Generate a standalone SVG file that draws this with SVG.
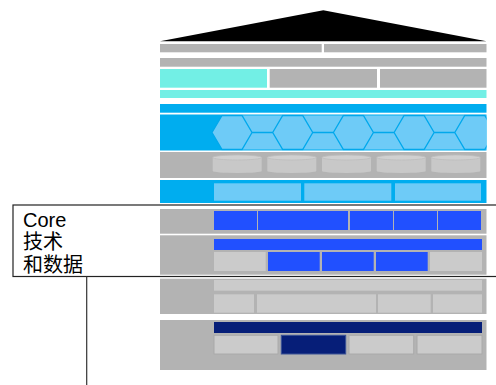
<svg xmlns="http://www.w3.org/2000/svg" width="496" height="385" viewBox="0 0 496 385">
<style>
.g{fill:#b3b3b3}
.lg{fill:#cbcbcb}
.cy{fill:#72efe5}
.bl{fill:#00adef}
.lb{fill:#6ecbf7}
.rb{fill:#2150ff}
.nv{fill:#061e78}
.sc{stroke:#aaaaaa;stroke-width:1}
.hx{fill:none;stroke:#00a8ec;stroke-width:1.3}
.lbl{font-family:"Liberation Sans","Noto Sans CJK SC",sans-serif;font-size:20px;fill:#000}
</style>
<defs>
<clipPath id="hexclip"><rect x="160" y="114.5" width="326.5" height="36"/></clipPath>
<g id="cyl">
<path d="M0,2.5 L0,16 A24.5,2 0 0 0 49,16 L49,2.5 Z" fill="#c8c8c8"/>
<ellipse cx="24.5" cy="2.5" rx="24.5" ry="2.5" fill="#d0d0d0" stroke="#bdbdbd" stroke-width="0.8"/>
</g>
</defs>
<rect width="496" height="385" fill="#ffffff"/>

<g id="roof">
<polygon points="160,41.3 323.3,10.3 486.5,41.3" fill="#000"/>
</g>

<g id="row1">
<rect class="g" x="160" y="44" width="161.7" height="8.3"/>
<rect class="g" x="324" y="44" width="162.5" height="8.3"/>
</g>

<g id="row2">
<rect class="g" x="160" y="58" width="326.5" height="8.7"/>
</g>

<g id="row3">
<rect class="cy" x="160" y="69" width="107" height="18.7"/>
<rect class="g" x="269.7" y="69" width="107.3" height="18.7"/>
<rect class="g" x="380" y="69" width="106.5" height="18.7"/>
</g>

<g id="row4">
<rect class="cy" x="160" y="90" width="326.5" height="8"/>
</g>

<g id="row5">
<rect class="bl" x="160" y="104" width="326.5" height="8.7"/>
</g>

<g id="row-hex">
<rect class="bl" x="160" y="114.5" width="326.5" height="36"/>
<g clip-path="url(#hexclip)">
<polygon class="lb" points="212,132.5 222,115.5 486.5,115.5 486.5,149.5 222,149.5"/>
<path class="hx" d="M212,132.5 L222,115.5 L242,115.5 L252,132.5 L242,149.5 L222,149.5 Z M252,132.5 L272.7,132.5
M272.7,132.5 L282.7,115.5 L302.7,115.5 L312.7,132.5 L302.7,149.5 L282.7,149.5 Z M312.7,132.5 L333.4,132.5
M333.4,132.5 L343.4,115.5 L363.4,115.5 L373.4,132.5 L363.4,149.5 L343.4,149.5 Z M373.4,132.5 L394.1,132.5
M394.1,132.5 L404.1,115.5 L424.1,115.5 L434.1,132.5 L424.1,149.5 L404.1,149.5 Z M434.1,132.5 L454.8,132.5
M454.8,132.5 L464.8,115.5 L484.8,115.5 L494.8,132.5 L484.8,149.5 L464.8,149.5 Z"/>
</g>
</g>

<g id="row-cyl">
<rect class="g" x="160" y="152" width="326.5" height="26"/>
<use href="#cyl" x="212.7" y="155"/>
<use href="#cyl" x="267.3" y="155"/>
<use href="#cyl" x="322" y="155"/>
<use href="#cyl" x="376.7" y="155"/>
<use href="#cyl" x="431.3" y="155"/>
</g>

<g id="row-blue">
<rect class="bl" x="160" y="180" width="326.5" height="23"/>
<rect class="lb" x="214" y="183.3" width="87" height="17.4"/>
<rect class="lb" x="304.3" y="183.3" width="87" height="17.4"/>
<rect class="lb" x="395" y="183.3" width="86" height="17.4"/>
</g>

<g id="row-core1">
<rect class="g" x="160" y="209" width="326.5" height="24.7"/>
<rect class="rb" x="214" y="211" width="43" height="19"/>
<rect class="rb" x="258" y="211" width="90" height="19"/>
<rect class="rb" x="350" y="211" width="43" height="19"/>
<rect class="rb" x="394" y="211" width="43" height="19"/>
<rect class="rb" x="438" y="211" width="43" height="19"/>
</g>

<g id="row-core2">
<rect class="g" x="160" y="235.3" width="326.5" height="39.4"/>
<rect class="rb" x="214" y="239" width="268" height="11"/>
<rect class="lg" x="214" y="252" width="51.7" height="19"/>
<rect class="rb" x="268" y="252" width="51.7" height="19"/>
<rect class="rb" x="322" y="252" width="51.7" height="19"/>
<rect class="rb" x="376" y="252" width="51.7" height="19"/>
<rect class="lg" x="430" y="252" width="52" height="19"/>
</g>

<g id="row-lower1">
<rect class="g" x="160" y="278.7" width="326.5" height="35.3"/>
<rect class="lg" x="214" y="280" width="268" height="10.7"/>
<rect class="lg" x="214" y="294.3" width="40" height="18.4"/>
<rect class="lg" x="257" y="294.3" width="119" height="18.4"/>
<rect class="lg" x="378" y="294.3" width="52.7" height="18.4"/>
<rect class="lg" x="433" y="294.3" width="49" height="18.4"/>
</g>

<g id="row-lower2">
<rect class="g" x="160" y="320" width="326.5" height="50"/>
<rect class="nv" x="214" y="322" width="268" height="11"/>
<rect class="lg sc" x="214" y="335.3" width="64" height="18.7"/>
<rect class="nv" x="281.3" y="335.3" width="64.4" height="18.7" stroke="#3a5296" stroke-width="1"/>
<rect class="lg sc" x="349" y="335.3" width="64.7" height="18.7"/>
<rect class="lg sc" x="417" y="335.3" width="65" height="18.7"/>
</g>

<g id="label-core">
<rect x="13" y="205" width="490" height="71.5" fill="none" stroke="#222" stroke-width="1.2"/>
<text class="lbl" x="23" y="226.5">Core</text>
<text class="lbl" x="23" y="248.5">技术</text>
<text class="lbl" x="23" y="272">和数据</text>
</g>

<g id="connectors">
<line x1="86.7" y1="276.5" x2="86.7" y2="385" stroke="#333" stroke-width="1.2"/>
</g>
</svg>
